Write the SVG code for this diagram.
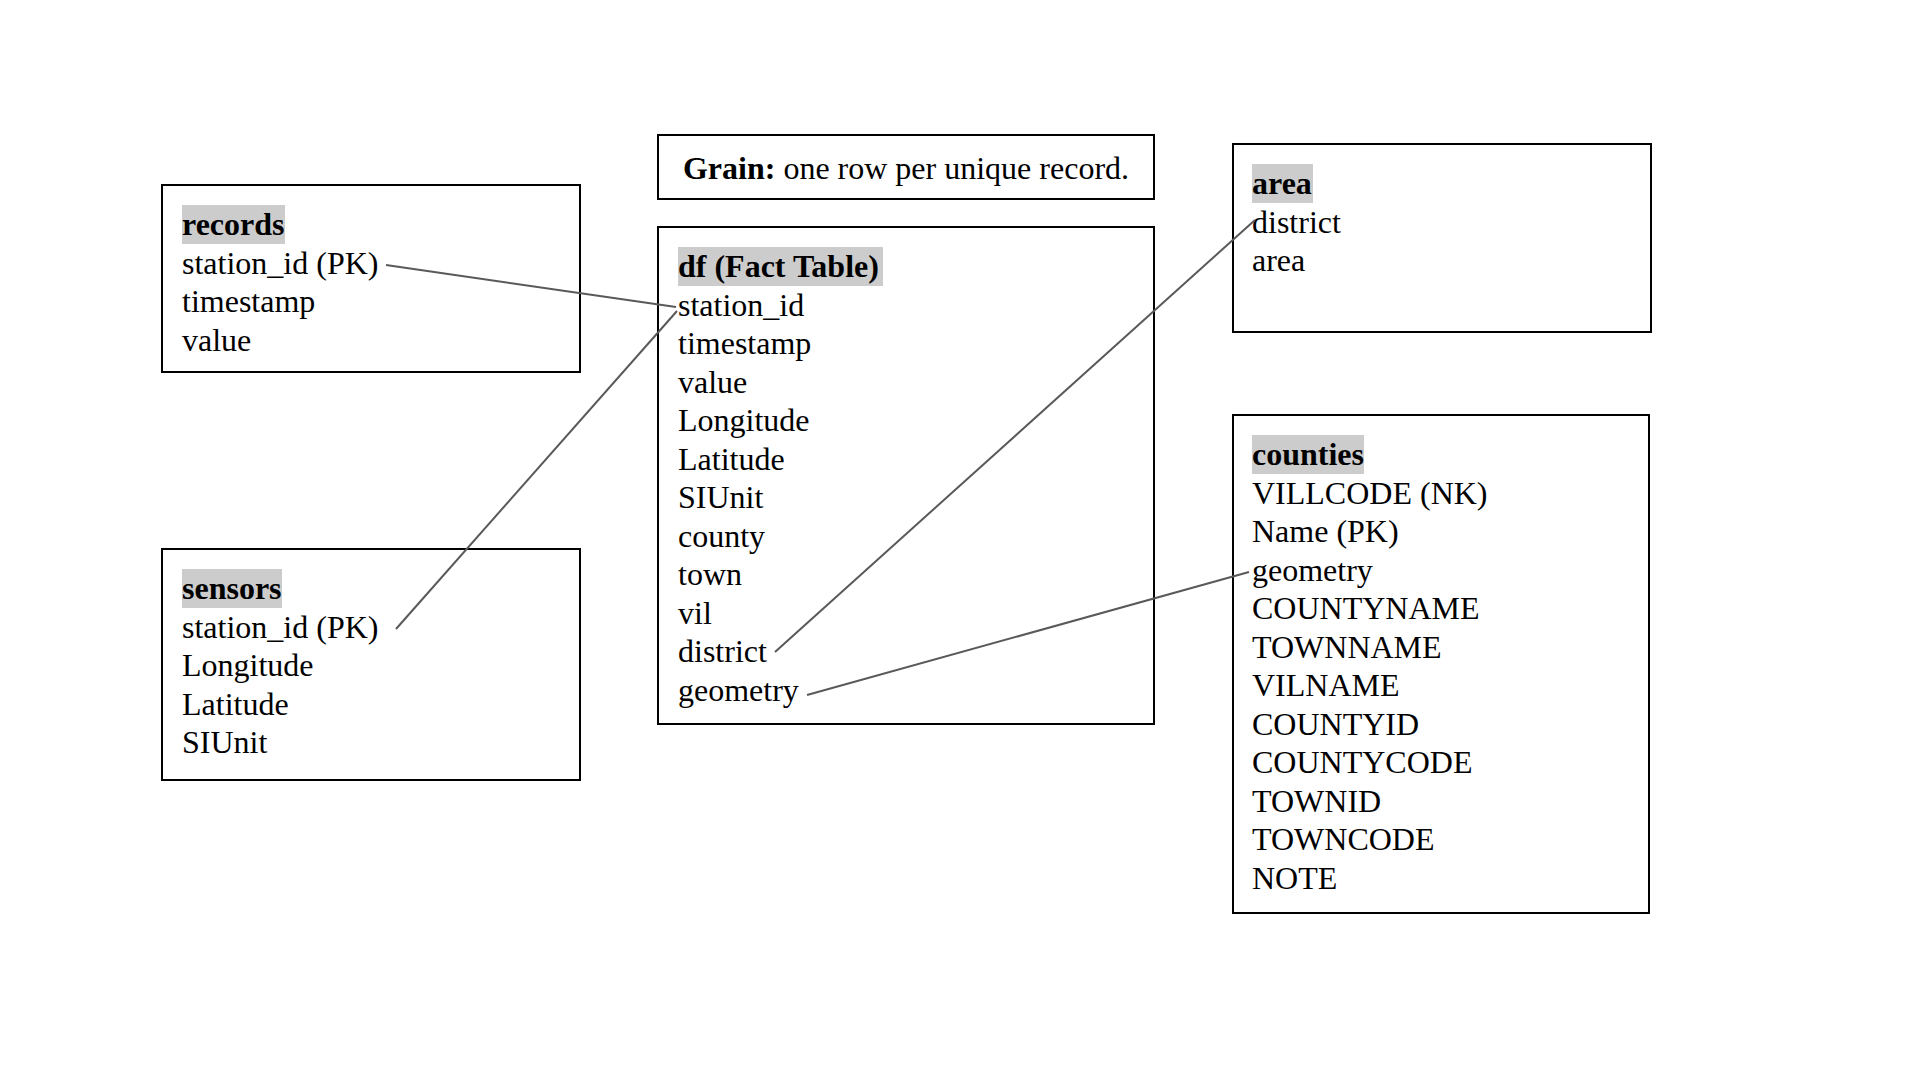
<svg xmlns="http://www.w3.org/2000/svg" width="1912" height="1068" viewBox="0 0 1912 1068">
<style>
.box{fill:#fff;stroke:#000;stroke-width:2}
.hl{fill:#cccccc}
text{font-family:"Liberation Serif","Times New Roman",serif;font-size:32px;fill:#000}
.b{font-weight:bold}
.conn{stroke:#595959;stroke-width:2;fill:none}
</style>
<rect width="1912" height="1068" fill="#fff"/>
<g id="grain">
<rect class="box" x="658" y="135" width="496" height="64"/>
<text x="906" y="178.5" text-anchor="middle"><tspan class="b">Grain:</tspan> one row per unique record.</text>
</g>
<g id="records">
<rect class="box" x="162" y="185" width="418" height="187"/>
<rect class="hl" x="182" y="205" width="103" height="39"/>
<text x="182" y="235" class="b">records</text>
<text x="182" y="273.5">station_id (PK)</text>
<text x="182" y="312">timestamp</text>
<text x="182" y="350.5">value</text>
</g>
<g id="sensors">
<rect class="box" x="162" y="549" width="418" height="231"/>
<rect class="hl" x="182" y="569" width="100" height="39"/>
<text x="182" y="599" class="b">sensors</text>
<text x="182" y="637.5">station_id (PK)</text>
<text x="182" y="676">Longitude</text>
<text x="182" y="714.5">Latitude</text>
<text x="182" y="753">SIUnit</text>
</g>
<g id="df">
<rect class="box" x="658" y="227" width="496" height="497"/>
<rect class="hl" x="678" y="247" width="205" height="39"/>
<text x="678" y="277" class="b">df (Fact Table)</text>
<text x="678" y="315.5">station_id</text>
<text x="678" y="354">timestamp</text>
<text x="678" y="392.5">value</text>
<text x="678" y="431">Longitude</text>
<text x="678" y="469.5">Latitude</text>
<text x="678" y="508">SIUnit</text>
<text x="678" y="546.5">county</text>
<text x="678" y="585">town</text>
<text x="678" y="623.5">vil</text>
<text x="678" y="662">district</text>
<text x="678" y="700.5">geometry</text>
</g>
<g id="area">
<rect class="box" x="1233" y="144" width="418" height="188"/>
<rect class="hl" x="1252" y="164" width="61" height="39"/>
<text x="1252" y="194" class="b">area</text>
<text x="1252" y="232.5">district</text>
<text x="1252" y="271">area</text>
</g>
<g id="counties">
<rect class="box" x="1233" y="415" width="416" height="498"/>
<rect class="hl" x="1252" y="435" width="112" height="39"/>
<text x="1252" y="465" class="b">counties</text>
<text x="1252" y="503.5">VILLCODE (NK)</text>
<text x="1252" y="542">Name (PK)</text>
<text x="1252" y="580.5">geometry</text>
<text x="1252" y="619">COUNTYNAME</text>
<text x="1252" y="657.5">TOWNNAME</text>
<text x="1252" y="696">VILNAME</text>
<text x="1252" y="734.5">COUNTYID</text>
<text x="1252" y="773">COUNTYCODE</text>
<text x="1252" y="811.5">TOWNID</text>
<text x="1252" y="850">TOWNCODE</text>
<text x="1252" y="888.5">NOTE</text>
</g>
<g id="connectors">
<line class="conn" x1="386" y1="265" x2="676" y2="307"/>
<line class="conn" x1="396" y1="629" x2="677" y2="311"/>
<line class="conn" x1="775" y1="652" x2="1255" y2="220"/>
<line class="conn" x1="807" y1="695" x2="1249" y2="572"/>
</g>
</svg>
